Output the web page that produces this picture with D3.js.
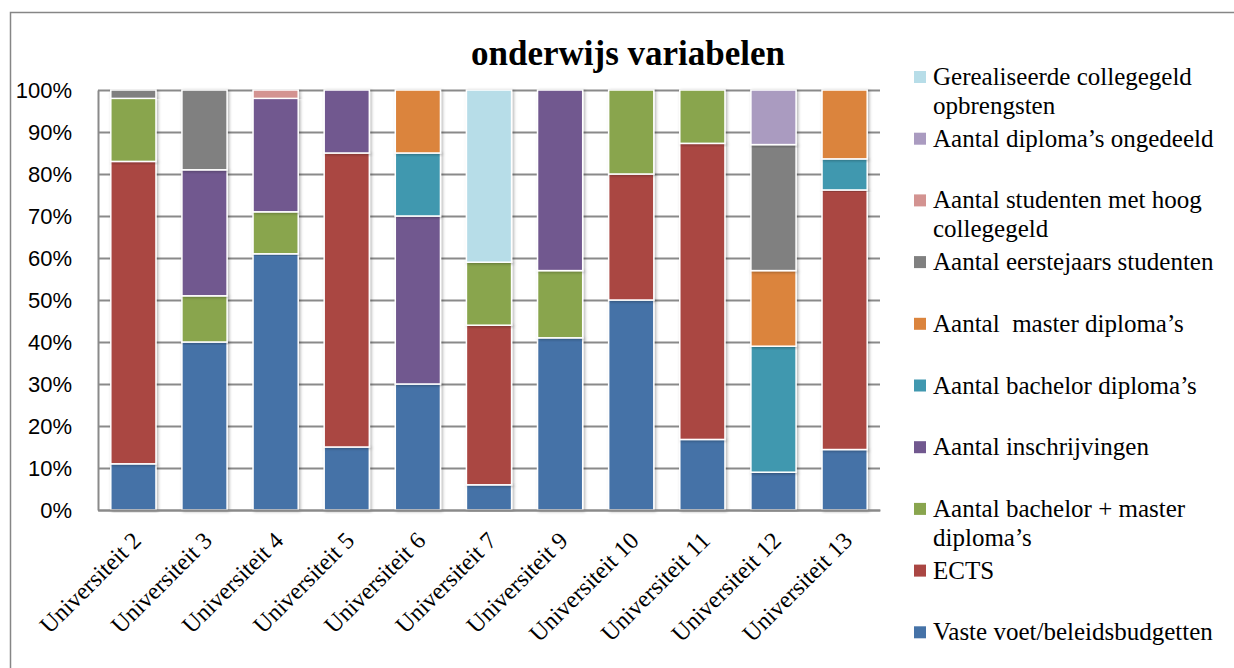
<!DOCTYPE html>
<html>
<head>
<meta charset="utf-8">
<script src="https://cdn.jsdelivr.net/npm/d3@7"></script>
<style>
  body { margin: 0; background: #fff; }
  svg { display: block; }
</style>
</head>
<body>
<div id="chart"></div>
<script>
// universities on the x axis
var universities = ['Universiteit 2', 'Universiteit 3', 'Universiteit 4', 'Universiteit 5', 'Universiteit 6',
  'Universiteit 7', 'Universiteit 9', 'Universiteit 10', 'Universiteit 11', 'Universiteit 12', 'Universiteit 13']

// series values in percent, stacked bottom to top
var vasteVoet = [11, 40, 61, 15, 30, 6, 41, 50, 16.8, 9, 14.4]
var ects = [72, 0, 0, 70, 0, 38, 0, 30, 70.5, 0, 61.8]
var bachelorMaster = [15, 11, 10, 0, 0, 15, 16, 20, 12.7, 0, 0]
var inschrijvingen = [0, 30, 27, 15, 40, 0, 43, 0, 0, 0, 0]
var bachelorDiplomas = [0, 0, 0, 0, 15, 0, 0, 0, 0, 30, 7.4]
var masterDiplomas = [0, 0, 0, 0, 15, 0, 0, 0, 0, 18, 16.4]
var eerstejaars = [2, 19, 0, 0, 0, 0, 0, 0, 0, 30, 0]
var hoogCollegegeld = [0, 0, 2, 0, 0, 0, 0, 0, 0, 0, 0]
var diplomasOngedeeld = [0, 0, 0, 0, 0, 0, 0, 0, 0, 13, 0]
var collegegeldOpbrengsten = [0, 0, 0, 0, 0, 41, 0, 0, 0, 0, 0]

var yTicks = [0, 10, 20, 30, 40, 50, 60, 70, 80, 90, 100]

var series = [
  {key: 'vaste', name: ['Vaste voet/beleidsbudgetten'], values: vasteVoet, color: '#4572A7'},
  {key: 'ects', name: ['ECTS'], values: ects, color: '#AA4643'},
  {key: 'bama', name: ['Aantal bachelor + master', 'diploma\u2019s'], values: bachelorMaster, color: '#89A54E'},
  {key: 'inschr', name: ['Aantal inschrijvingen'], values: inschrijvingen, color: '#71588F'},
  {key: 'ba', name: ['Aantal bachelor diploma\u2019s'], values: bachelorDiplomas, color: '#4198AF'},
  {key: 'ma', name: ['Aantal  master diploma\u2019s'], values: masterDiplomas, color: '#DB843D'},
  {key: 'eerst', name: ['Aantal eerstejaars studenten'], values: eerstejaars, color: '#808080'},
  {key: 'hoog', name: ['Aantal studenten met hoog', 'collegegeld'], values: hoogCollegegeld, color: '#D39391'},
  {key: 'onged', name: ['Aantal diploma\u2019s ongedeeld'], values: diplomasOngedeeld, color: '#AA9BC0'},
  {key: 'opbr', name: ['Gerealiseerde collegegeld', 'opbrengsten'], values: collegegeldOpbrengsten, color: '#B7DDE8'}
]

var W = 1234, H = 668
var margin = {top: 90, left: 98, right: 354, bottom: 158}
var width = W - margin.left - margin.right
var height = H - margin.top - margin.bottom

var rows = universities.map(function (u, i) {
  var r = {name: u}
  series.forEach(function (s) { r[s.key] = s.values[i] })
  return r
})

var stack = d3.stack().keys(series.map(function (s) { return s.key }))
var layers = stack(rows)

var x = d3.scaleBand().domain(universities).range([0, width]).paddingInner(0.365).paddingOuter(0.18)
var y = d3.scaleLinear().domain([0, 100]).range([height, 0])

var svg = d3.select('#chart').append('svg')
  .attr('width', W)
  .attr('height', H)

var defs = svg.append('defs')
var f = defs.append('filter').attr('id', 'shadow').attr('x', '-20%').attr('y', '-5%').attr('width', '140%').attr('height', '110%')
f.append('feDropShadow').attr('dx', 1.5).attr('dy', 1).attr('stdDeviation', 1.6)
  .attr('flood-color', '#000').attr('flood-opacity', 0.3)

// outer frame
svg.append('rect')
  .attr('x', 10.5).attr('y', 12.5)
  .attr('width', W).attr('height', H)
  .attr('fill', 'none')
  .attr('stroke', '#868686')
  .attr('stroke-width', 1.5)

svg.append('text')
  .attr('x', 628)
  .attr('y', 65)
  .attr('text-anchor', 'middle')
  .style('font-family', '"Liberation Serif", "Times New Roman", serif')
  .style('font-weight', 'bold')
  .style('font-size', '35px')
  .text('onderwijs variabelen')

var g = svg.append('g')
  .attr('transform', 'translate(' + margin.left + ',' + margin.top + ')')

// gridlines
g.append('g')
  .call(d3.axisLeft(y).tickValues(yTicks).tickSize(-width).tickFormat(''))
  .call(function (a) {
    a.select('.domain').remove()
    a.selectAll('line').attr('stroke', '#8a8a8a').attr('stroke-width', 2)
  })

// y labels
g.append('g')
  .call(d3.axisLeft(y).tickValues(yTicks).tickSize(0).tickPadding(26).tickFormat(function (d) { return d + '%' }))
  .call(function (a) {
    a.select('.domain').attr('stroke', '#8a8a8a').attr('stroke-width', 2)
    a.selectAll('text')
      .style('font-family', '"Liberation Sans", Arial, sans-serif')
      .style('font-size', '22px')
      .attr('fill', '#000')
  })

// bars
g.selectAll('.layer')
  .data(layers)
  .enter().append('g')
  .attr('class', 'layer')
  .attr('fill', function (d, i) { return series[i].color })
  .selectAll('rect')
  .data(function (d) { return d.filter(function (p) { return p[1] - p[0] > 0 }) })
  .enter().append('rect')
  .attr('x', function (d) { return x(d.data.name) })
  .attr('y', function (d) { return y(d[1]) })
  .attr('width', x.bandwidth())
  .attr('height', function (d) { return y(d[0]) - y(d[1]) })
  .attr('stroke', '#fff')
  .attr('stroke-width', 1.5)
  .attr('filter', 'url(#shadow)')

// bottom axis
g.append('g')
  .attr('transform', 'translate(0,' + height + ')')
  .call(d3.axisBottom(x).tickSize(0).tickFormat(''))
  .call(function (a) {
    a.select('.domain').attr('stroke', '#8a8a8a').attr('stroke-width', 2)
  })

g.selectAll('.xlabel')
  .data(universities)
  .enter().append('text')
  .attr('class', 'xlabel')
  .attr('transform', function (d) {
    return 'translate(' + (x(d) + x.bandwidth() / 2 + 9) + ',' + (height + 32) + ') rotate(-45)'
  })
  .attr('text-anchor', 'end')
  .style('font-family', '"Liberation Serif", "Times New Roman", serif')
  .style('font-size', '24px')
  .text(function (d) { return d })

// legend, top entry is the last series
var legend = svg.append('g')
  .style('font-family', '"Liberation Serif", "Times New Roman", serif')
  .style('font-size', '25px')

series.slice().reverse().forEach(function (s, i) {
  var cy = 77 + i * 61.7
  legend.append('rect')
    .attr('x', 914).attr('y', cy - 6)
    .attr('width', 12).attr('height', 12)
    .attr('fill', s.color)
  s.name.forEach(function (line, j) {
    legend.append('text')
      .attr('x', 933)
      .attr('y', cy + 8 + j * 29)
      .style('white-space', 'pre')
      .text(line)
  })
})
</script>
</body>
</html>
